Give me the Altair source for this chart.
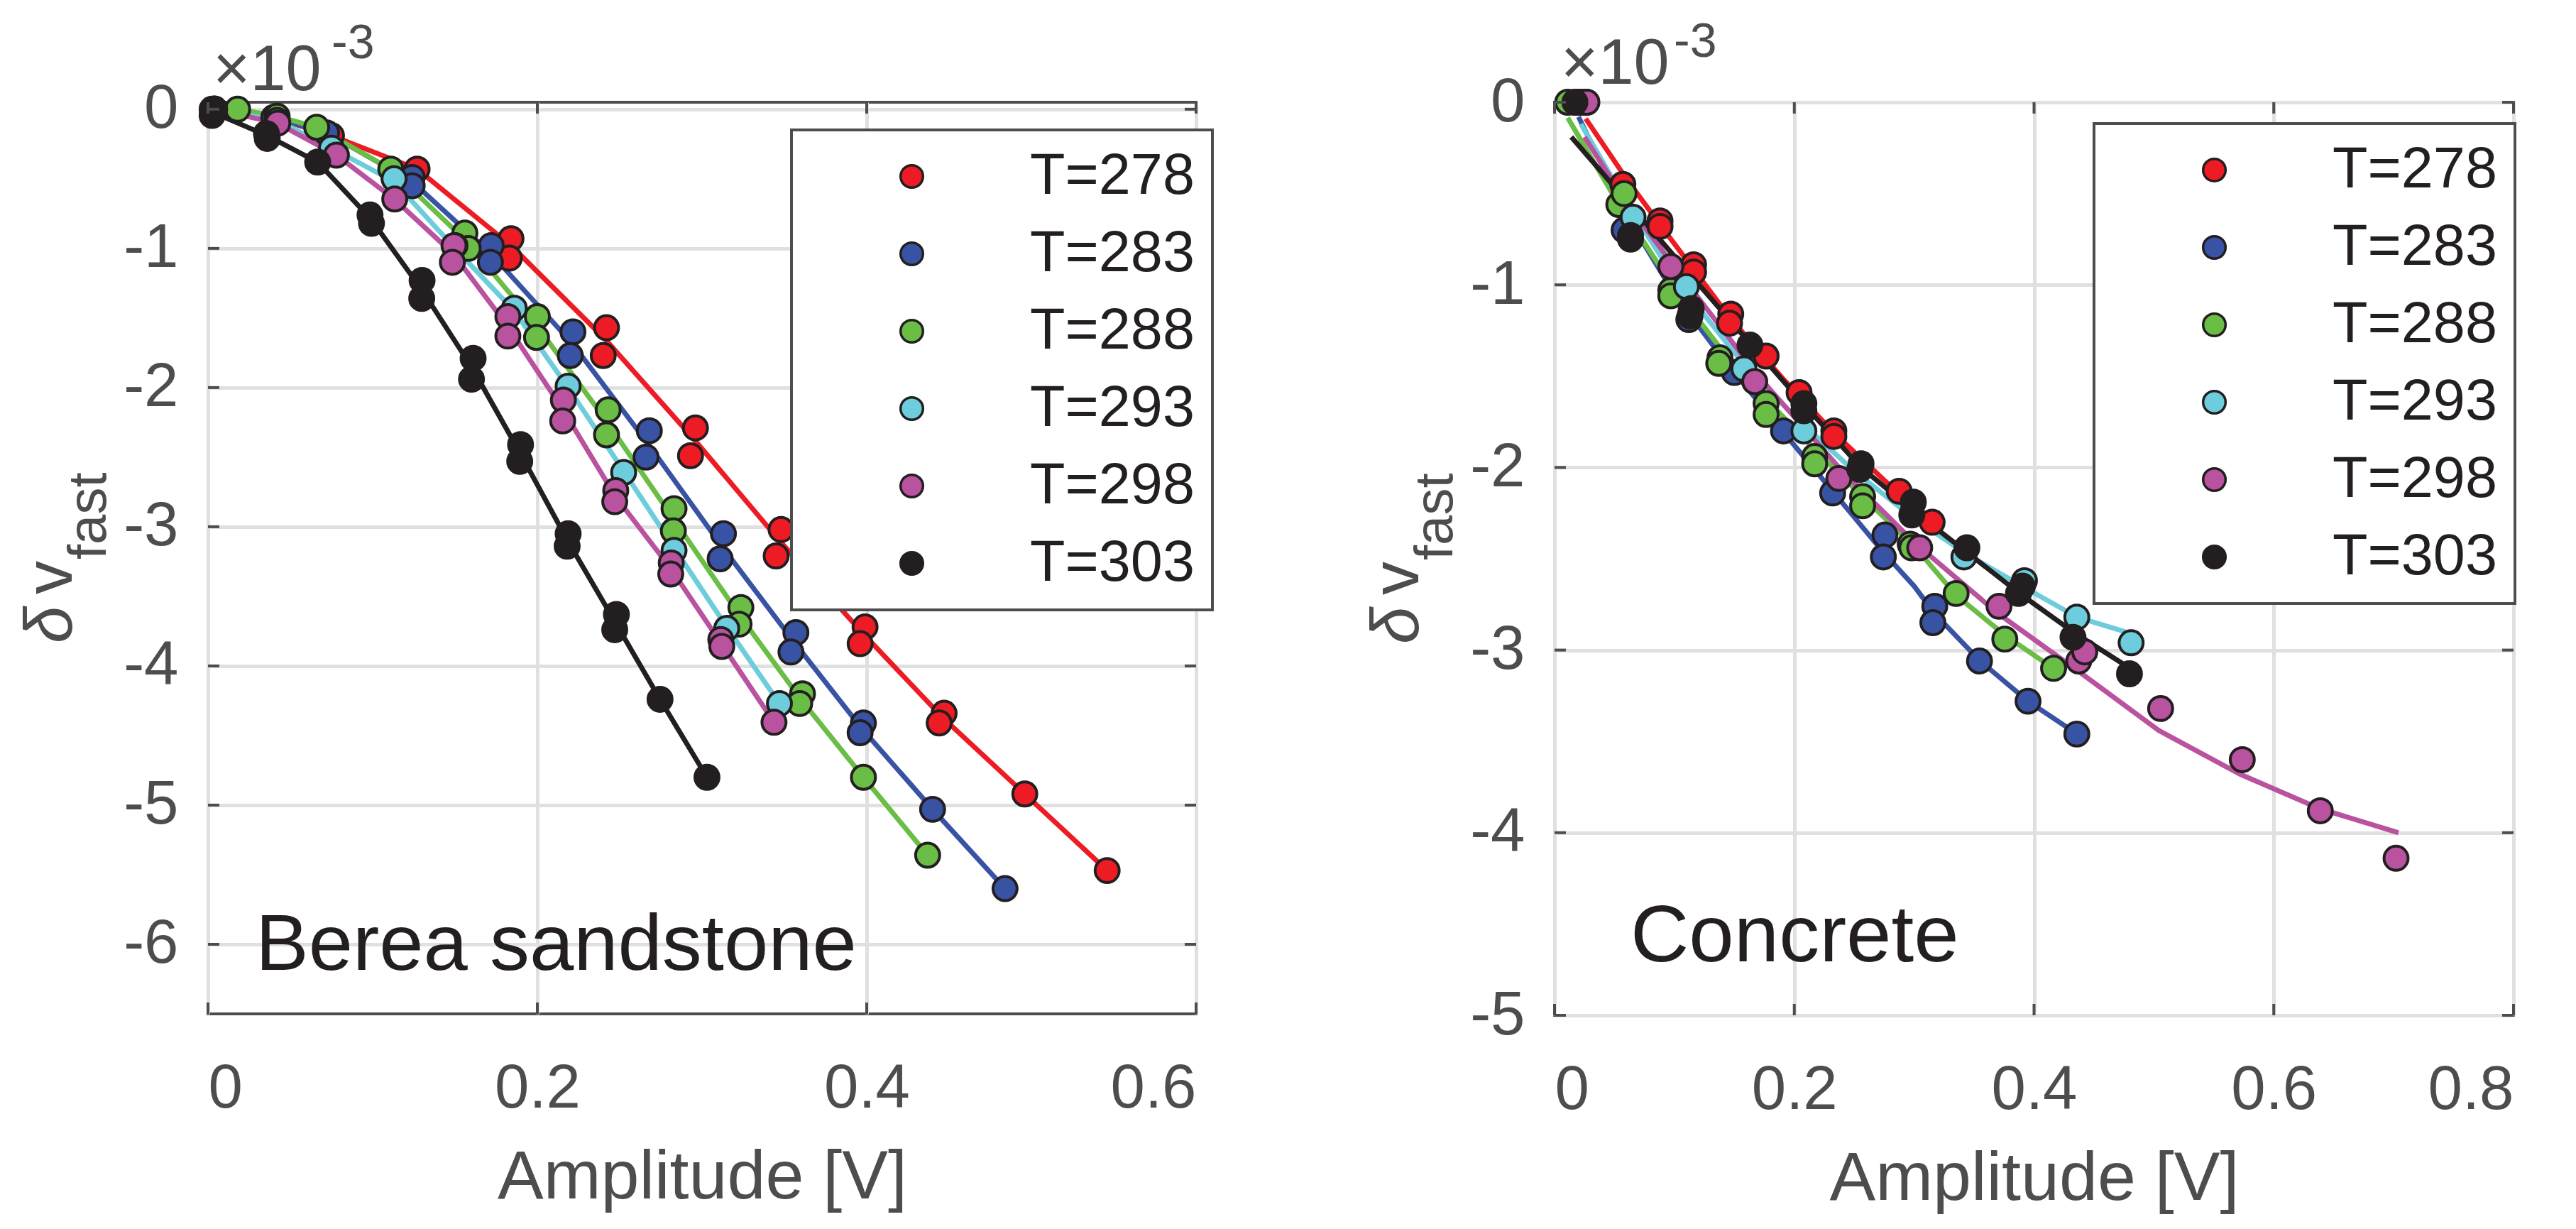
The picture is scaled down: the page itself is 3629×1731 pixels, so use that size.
import pandas as pd
import altair as alt

TEMPS = ["T=278", "T=283", "T=288", "T=293", "T=298", "T=303"]
COLORS = ["#ed1c24", "#3953a4", "#6abd45", "#6dcddc", "#b9529f", "#231f20"]
FONT = "Liberation Sans"
GREY = "#4d4d4d"
INK = "#231f20"

# ---------------- Berea sandstone (delta v in 1e-3, amplitude in V) ----------------
berea_278_x = [0.004, 0.040, 0.075, 0.127, 0.184, 0.183, 0.242, 0.240, 0.296, 0.293, 0.348, 0.345,
               0.399, 0.396, 0.447, 0.444, 0.496, 0.546]
berea_278_y = [0.0, -0.06, -0.19, -0.43, -0.93, -1.07, -1.57, -1.77, -2.29, -2.49, -3.02, -3.21,
               -3.72, -3.84, -4.34, -4.41, -4.92, -5.47]
berea_278_fx = [0.004, 0.040, 0.075, 0.127, 0.184, 0.241, 0.295, 0.347, 0.398, 0.446, 0.496, 0.546]
berea_278_fy = [0.0, -0.06, -0.19, -0.43, -0.98, -1.65, -2.37, -3.10, -3.77, -4.37, -4.92, -5.47]

berea_283_x = [0.004, 0.040, 0.072, 0.124, 0.124, 0.172, 0.1715, 0.2216, 0.220, 0.268, 0.266, 0.313,
               0.311, 0.357, 0.354, 0.398, 0.396, 0.440, 0.484]
berea_283_y = [0.0, -0.06, -0.17, -0.49, -0.55, -0.98, -1.10, -1.60, -1.77, -2.31, -2.50, -3.05,
               -3.23, -3.76, -3.90, -4.41, -4.48, -5.03, -5.60]
berea_283_fx = [0.004, 0.040, 0.072, 0.124, 0.172, 0.221, 0.267, 0.312, 0.356, 0.397, 0.440, 0.484]
berea_283_fy = [0.0, -0.06, -0.17, -0.52, -1.04, -1.68, -2.40, -3.14, -3.83, -4.45, -5.03, -5.60]

berea_288_x = [0.018, 0.042, 0.066, 0.111, 0.156, 0.158, 0.200, 0.1995, 0.243, 0.242, 0.283, 0.2826,
               0.3236, 0.3225, 0.361, 0.3593, 0.398, 0.437]
berea_288_y = [0.0, -0.05, -0.13, -0.43, -0.89, -1.00, -1.49, -1.64, -2.16, -2.34, -2.87, -3.03,
               -3.58, -3.70, -4.20, -4.27, -4.80, -5.36]
berea_288_fx = [0.018, 0.042, 0.066, 0.111, 0.157, 0.200, 0.2425, 0.283, 0.323, 0.360, 0.398, 0.437]
berea_288_fy = [0.0, -0.05, -0.13, -0.43, -0.95, -1.56, -2.25, -2.95, -3.64, -4.24, -4.80, -5.36]

berea_293_x = [0.004, 0.042, 0.075, 0.113, 0.150, 0.186, 0.2187, 0.2524, 0.283, 0.315, 0.347]
berea_293_y = [0.0, -0.08, -0.28, -0.50, -0.98, -1.43, -1.99, -2.61, -3.17, -3.73, -4.27]
berea_293_fx = [0.004, 0.042, 0.075, 0.113, 0.150, 0.186, 0.2187, 0.2524, 0.283, 0.315, 0.347]
berea_293_fy = [0.0, -0.08, -0.28, -0.52, -1.00, -1.45, -2.00, -2.60, -3.15, -3.72, -4.27]

berea_298_x = [0.004, 0.0424, 0.078, 0.1134, 0.1494, 0.1484, 0.1821, 0.1821, 0.2158, 0.2154, 0.2476,
               0.247, 0.2813, 0.281, 0.3114, 0.312, 0.3437]
berea_298_y = [0.0, -0.10, -0.33, -0.645, -0.98, -1.10, -1.49, -1.63, -2.09, -2.24, -2.74,
               -2.82, -3.26, -3.34, -3.81, -3.86, -4.405]
berea_298_fx = [0.004, 0.042, 0.078, 0.113, 0.149, 0.182, 0.2156, 0.2473, 0.281, 0.3117, 0.3437]
berea_298_fy = [0.0, -0.10, -0.33, -0.645, -1.04, -1.56, -2.16, -2.78, -3.30, -3.84, -4.405]

berea_303_x = [0.0025, 0.0025, 0.0355, 0.036, 0.0666, 0.0984, 0.0993, 0.130, 0.1298, 0.161, 0.160,
               0.1898, 0.1893, 0.2187, 0.2181, 0.248, 0.247, 0.2745, 0.303]
berea_303_y = [0.0, -0.045, -0.175, -0.21, -0.38, -0.76, -0.82, -1.23, -1.36, -1.79, -1.94,
               -2.41, -2.53, -3.05, -3.14, -3.63, -3.74, -4.24, -4.80]
berea_303_fx = [0.0025, 0.036, 0.0666, 0.099, 0.130, 0.1605, 0.1895, 0.2184, 0.2475, 0.2745, 0.303]
berea_303_fy = [-0.02, -0.19, -0.38, -0.79, -1.30, -1.86, -2.47, -3.10, -3.69, -4.24, -4.80]

# ---------------- Concrete ----------------
conc_278_x = [0.026, 0.057, 0.088, 0.088, 0.116, 0.116, 0.147, 0.146, 0.1765, 0.204, 0.233, 0.233,
              0.2875, 0.315]
conc_278_y = [0.0, -0.45, -0.65, -0.68, -0.89, -0.93, -1.16, -1.21, -1.39, -1.59, -1.80, -1.83,
              -2.13, -2.30]
conc_278_fx = [0.026, 0.060, 0.088, 0.120, 0.147, 0.190, 0.233, 0.275, 0.315]
conc_278_fy = [-0.09, -0.42, -0.67, -0.95, -1.185, -1.51, -1.81, -2.07, -2.295]

conc_283_x = [0.020, 0.058, 0.112, 0.150, 0.191, 0.232, 0.2756, 0.2743, 0.3172, 0.3156, 0.3545,
              0.395, 0.4357]
conc_283_y = [0.0, -0.70, -1.19, -1.48, -1.80, -2.14, -2.37, -2.49, -2.76, -2.85, -3.06,
              -3.28, -3.46]
conc_283_fx = [0.020, 0.060, 0.100, 0.140, 0.190, 0.232, 0.275, 0.300, 0.317, 0.355, 0.395, 0.436]
conc_283_fy = [-0.08, -0.62, -1.05, -1.40, -1.80, -2.13, -2.47, -2.65, -2.80, -3.06, -3.28, -3.46]

conc_288_x = [0.011, 0.0536, 0.058, 0.097, 0.097, 0.138, 0.137, 0.1765, 0.1765, 0.217, 0.217, 0.257,
              0.257, 0.2967, 0.298, 0.335, 0.3756, 0.4163]
conc_288_y = [0.0, -0.56, -0.50, -1.03, -1.06, -1.40, -1.43, -1.65, -1.71, -1.94, -1.98, -2.16,
              -2.21, -2.42, -2.44, -2.69, -2.94, -3.10]
conc_288_fx = [0.011, 0.050, 0.100, 0.140, 0.180, 0.220, 0.260, 0.300, 0.335, 0.376, 0.416]
conc_288_fy = [-0.085, -0.52, -1.02, -1.36, -1.65, -1.92, -2.18, -2.43, -2.70, -2.92, -3.10]

conc_293_x = [0.022, 0.0655, 0.110, 0.158, 0.208, 0.3415, 0.392, 0.4357, 0.481]
conc_293_y = [0.0, -0.63, -1.01, -1.46, -1.80, -2.49, -2.62, -2.82, -2.96]
conc_293_fx = [0.022, 0.060, 0.100, 0.150, 0.200, 0.250, 0.300, 0.345, 0.390, 0.436, 0.481]
conc_293_fy = [-0.12, -0.55, -0.96, -1.37, -1.72, -2.02, -2.28, -2.48, -2.65, -2.82, -2.91]

conc_298_x = [0.027, 0.097, 0.167, 0.2372, 0.3046, 0.3708, 0.4373, 0.4423, 0.5056, 0.5737, 0.6388,
              0.702]
conc_298_y = [0.0, -0.90, -1.53, -2.06, -2.44, -2.76, -3.06, -3.01, -3.32, -3.60, -3.88, -4.14]
conc_298_fx = [0.025, 0.060, 0.100, 0.170, 0.240, 0.300, 0.370, 0.440, 0.504, 0.572, 0.639, 0.704]
conc_298_fy = [-0.19, -0.55, -0.90, -1.50, -2.02, -2.41, -2.80, -3.13, -3.44, -3.68, -3.87, -4.00]

conc_303_x = [0.017, 0.0634, 0.0634, 0.114, 0.113, 0.163, 0.208, 0.208, 0.2557, 0.2547, 0.2993,
              0.298, 0.344, 0.3903, 0.387, 0.4325, 0.4796]
conc_303_y = [0.0, -0.73, -0.75, -1.13, -1.17, -1.33, -1.65, -1.69, -1.98, -2.01, -2.19,
              -2.26, -2.44, -2.65, -2.69, -2.93, -3.13]
conc_303_fx = [0.014, 0.060, 0.110, 0.163, 0.210, 0.2557, 0.300, 0.345, 0.390, 0.4325, 0.480]
conc_303_fy = [-0.19, -0.54, -0.92, -1.32, -1.67, -2.00, -2.24, -2.47, -2.70, -2.90, -3.10]

berea_x_ticks = [0, 0.2, 0.4, 0.6]
berea_y_ticks = [0, -1, -2, -3, -4, -5, -6]
conc_x_ticks = [0, 0.2, 0.4, 0.6, 0.8]
conc_y_ticks = [0, -1, -2, -3, -4, -5]


def frame(series):
    rows = []
    for i, (xs, ys) in enumerate(series):
        for x, y in zip(xs, ys):
            rows.append({"T": TEMPS[i], "c": COLORS[i], "x": x, "y": y})
    return pd.DataFrame(rows)


berea_pts = frame([(berea_278_x, berea_278_y), (berea_283_x, berea_283_y), (berea_288_x, berea_288_y),
                   (berea_293_x, berea_293_y), (berea_298_x, berea_298_y), (berea_303_x, berea_303_y)])
berea_fit = frame([(berea_278_fx, berea_278_fy), (berea_283_fx, berea_283_fy),
                   (berea_288_fx, berea_288_fy), (berea_293_fx, berea_293_fy),
                   (berea_298_fx, berea_298_fy), (berea_303_fx, berea_303_fy)])
conc_pts = frame([(conc_278_x, conc_278_y), (conc_283_x, conc_283_y), (conc_288_x, conc_288_y),
                  (conc_293_x, conc_293_y), (conc_298_x, conc_298_y), (conc_303_x, conc_303_y)])
conc_fit = frame([(conc_278_fx, conc_278_fy), (conc_283_fx, conc_283_fy), (conc_288_fx, conc_288_fy),
                  (conc_293_fx, conc_293_fy), (conc_298_fx, conc_298_fy), (conc_303_fx, conc_303_fy)])


def panel(pts, fit, x_dom, y_dom, x_ticks, y_ticks, w, h, name, name_pos, name_size,
          exp_pos, legend_pos):
    def xe():
        return alt.X("x:Q", scale=alt.Scale(domain=x_dom, nice=False, zero=False),
                     axis=alt.Axis(values=x_ticks, title="Amplitude [V]", labelExpr="'' + datum.value"))

    def ye():
        return alt.Y("y:Q", scale=alt.Scale(domain=y_dom, nice=False, zero=False),
                     axis=alt.Axis(values=y_ticks, title=None, labelExpr="'' + datum.value"))

    # fitted curves: colour taken straight from the data, so no second legend is made
    lines = alt.Chart(fit).mark_line(strokeWidth=7).encode(
        x=xe(), y=ye(), stroke=alt.Stroke("c:N", scale=None), detail="T:N"
    )
    dots = alt.Chart(pts).mark_circle(size=1150, stroke=INK, strokeWidth=4, opacity=1).encode(
        x=xe(), y=ye(),
        fill=alt.Fill("T:N", scale=alt.Scale(domain=TEMPS, range=COLORS), legend=alt.Legend(
            title=None, orient="none", legendX=legend_pos[0], legendY=legend_pos[1],
            padding=25, strokeColor=GREY, fillColor="white", symbolType="circle",
            symbolSize=1000, symbolStrokeColor=INK, symbolStrokeWidth=3.5,
            symbolOffset=104, labelOffset=126, labelFont=FONT, labelFontSize=81,
            labelColor=INK, rowPadding=27, labelLimit=600)),
    )

    ytk = pd.DataFrame({"y": y_ticks})
    xtk = pd.DataFrame({"x": x_ticks})
    tick = dict(color=GREY, strokeWidth=4)
    ticks = [
        alt.Chart(ytk).mark_rule(**tick).encode(y=ye(), x=alt.value(0), x2=alt.value(16)),
        alt.Chart(ytk).mark_rule(**tick).encode(y=ye(), x=alt.value(w - 16), x2=alt.value(w)),
        alt.Chart(xtk).mark_rule(**tick).encode(x=xe(), y=alt.value(h - 16), y2=alt.value(h)),
        alt.Chart(xtk).mark_rule(**tick).encode(x=xe(), y=alt.value(0), y2=alt.value(16)),
    ]

    one = pd.DataFrame({"k": [0]})

    def txt(s, x, y, size, color, angle=0, style="normal"):
        return alt.Chart(one).mark_text(
            text=s, font=FONT, fontSize=size, color=color, align="left",
            baseline="alphabetic", angle=angle, fontStyle=style
        ).encode(x=alt.value(x), y=alt.value(y))

    texts = [
        txt("\u03b4", -192, h / 2 + 120, 94, GREY, 270, "italic"),
        txt("v", -192, h / 2 + 51, 94, GREY, 270),
        txt("fast", -144, h / 2 + 2, 76, GREY, 270),
        txt("\u00d710", exp_pos[0], exp_pos[1], 90, GREY),
        txt("-3", exp_pos[2], exp_pos[3], 68, GREY),
        txt(name, name_pos[0], name_pos[1], name_size, INK),
    ]

    return alt.layer(lines, dots, *ticks, *texts).properties(width=w, height=h)


left = panel(berea_pts, berea_fit, [0, 0.6], [-6.5, 0.05], berea_x_ticks, berea_y_ticks,
             1392, 1284, "Berea sandstone", (67, 1222), 112, (7, -17, 174, -62), (822, 39))
right = panel(conc_pts, conc_fit, [0, 0.8], [-5, 0], conc_x_ticks, conc_y_ticks,
              1351, 1286, "Concrete", (107, 1210), 114, (9, -26, 168, -64), (760, 30))

chart = (
    alt.hconcat(left, right, spacing=209)
    .resolve_scale(x="independent", y="independent", fill="independent")
    .resolve_legend(fill="independent")
    .properties(padding={"left": 16, "top": 16, "right": 0, "bottom": 0})
    .configure_view(stroke=GREY, strokeWidth=4)
    .configure_axis(
        labelFont=FONT, labelFontSize=87, labelColor=GREY, titleFont=FONT, titleFontSize=97,
        titleColor=GREY, titleFontWeight="normal", domain=False, ticks=False, tickSize=0,
        grid=True, gridColor="#e0e0e0", gridWidth=5,
    )
    .configure_axisX(labelPadding=62, titlePadding=34)
    .configure_axisY(labelPadding=42)
    .configure_legend(strokeWidth=4)
)

chart.save("out.html", embed_options={"renderer": "svg", "actions": False})
